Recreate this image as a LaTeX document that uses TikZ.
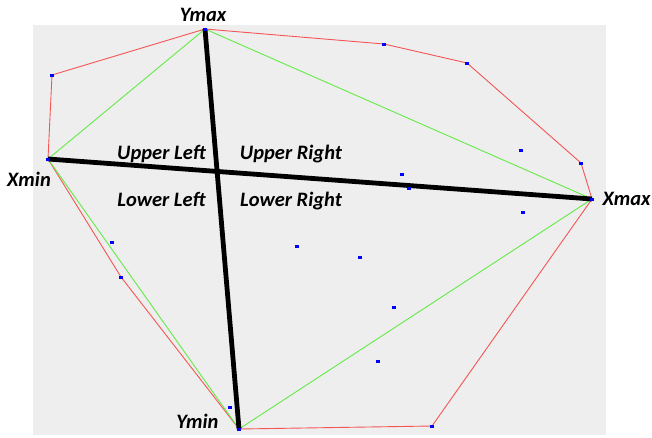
\documentclass[tikz,border=0pt]{standalone}
\usepackage{fontspec}
\setmainfont{Carlito}
\definecolor{bg}{RGB}{238,238,238}
\definecolor{hullred}{RGB}{245,85,85}
\definecolor{quadgreen}{RGB}{100,235,70}
\definecolor{dotblue}{RGB}{0,0,255}
\pgfdeclarelayer{backlayer}
\pgfdeclarelayer{linelayer}
\pgfsetlayers{backlayer,linelayer,main}
\begin{document}
\begin{tikzpicture}[x=1pt,y=-1pt,
  pt/.style={fill=dotblue,inner sep=0pt,minimum width=4pt,minimum height=3pt},
  lbl/.style={anchor=base,font=\fontsize{20.5}{24}\selectfont\bfseries\itshape,inner sep=0pt},
  hull/.style={draw=hullred,line width=0.9pt},
  quad/.style={draw=quadgreen,line width=0.9pt},
  axis/.style={draw=black,line width=4.8pt}]
\useasboundingbox (0,0) rectangle (652,437);
\begin{pgfonlayer}{backlayer}
\fill[bg] (33,25) rectangle (606,435);
\end{pgfonlayer}
% points
\node[pt] (ymax) at (205,29) {};
\node[pt] (p1) at (52,75) {};
\node[pt] (xmin) at (48,159) {};
\node[pt] (p2) at (384,44) {};
\node[pt] (p3) at (467,63) {};
\node[pt] (p4) at (581,163) {};
\node[pt] (xmax) at (592,199) {};
\node[pt] (p5) at (432,426) {};
\node[pt] (ymin) at (239,429) {};
\node[pt] (p6) at (121,277) {};
\node[pt] (q1) at (521,150) {};
\node[pt] (q2) at (402,174) {};
\node[pt] (q3) at (409,188) {};
\node[pt] (q4) at (523,212) {};
\node[pt] (q5) at (360,257) {};
\node[pt] (q6) at (394,307) {};
\node[pt] (q7) at (378,361) {};
\node[pt] (q8) at (112,242) {};
\node[pt] (q9) at (230,407) {};
\node[pt] (q10) at (297,246) {};
\begin{pgfonlayer}{linelayer}
% hull
\draw[hull] (ymax.center) -- (p2.center) -- (p3.center) -- (p4.center) -- (xmax.center)
  -- (p5.center) -- (ymin.center) -- (p6.center) -- (xmin.center) -- (p1.center) -- cycle;
% quadrilateral
\draw[quad] (ymax.center) -- (xmax.center) -- (ymin.center) -- (xmin.center) -- cycle;
% axes
\draw[axis] (xmin.center) -- (xmax.center);
\draw[axis] (ymax.center) -- (ymin.center);
\end{pgfonlayer}
% labels
\node[lbl] (lymax) at (203,21) {Ymax};
\node[lbl] (lxmin) at (29,186) {Xmin};
\node[lbl] (lxmax) at (626.5,205) {Xmax};
\node[lbl] (lymin) at (197.5,428) {Ymin};
\node[lbl] (ul) at (161.5,159) {Upper Left};
\node[lbl] (ur) at (291,159) {Upper Right};
\node[lbl] (ll) at (161.5,206) {Lower Left};
\node[lbl] (lr) at (291,206) {Lower Right};
\end{tikzpicture}
\end{document}
